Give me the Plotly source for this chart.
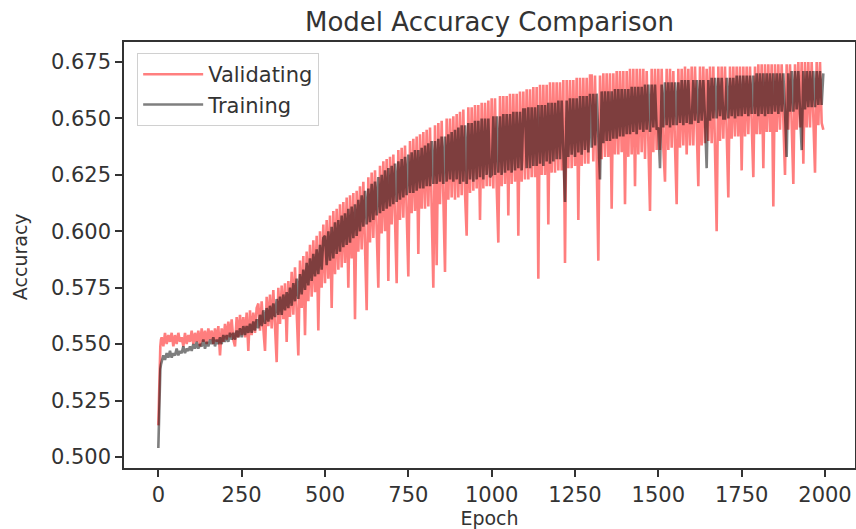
import plotly.graph_objects as go

# Epoch positions (x categories)
EPOCHS = [0, 2, 4, 6, 8] + list(range(10, 2000, 5))

# Validating accuracy
VAL = [
    0.514, 0.531, 0.543, 0.549, 0.552,
    0.553, 0.549, 0.555, 0.550, 0.554, 0.551, 0.555, 0.549, 0.554, 0.550, 0.555, 0.551, 0.553, 0.549, 0.555, 0.550, 0.554, 0.551,
    0.556, 0.550, 0.555, 0.551, 0.556, 0.549, 0.557, 0.551, 0.556, 0.550, 0.557, 0.552, 0.556, 0.550, 0.557, 0.551, 0.558, 0.545, 0.557, 0.551,
    0.559, 0.552, 0.560, 0.553, 0.561, 0.552, 0.549, 0.562, 0.553, 0.563, 0.554, 0.562, 0.553, 0.564, 0.547, 0.565, 0.554, 0.564, 0.555, 0.566,
    0.568, 0.556, 0.569, 0.557, 0.547, 0.571, 0.558, 0.572, 0.557, 0.574, 0.560, 0.542, 0.575, 0.559, 0.576, 0.561, 0.577, 0.551, 0.578, 0.562,
    0.582, 0.563, 0.584, 0.565, 0.545, 0.587, 0.566, 0.589, 0.554, 0.591, 0.569, 0.594, 0.571, 0.596, 0.573, 0.598, 0.556, 0.600, 0.575, 0.603,
    0.577, 0.605, 0.579, 0.607, 0.566, 0.609, 0.581, 0.610, 0.583, 0.612, 0.584, 0.613, 0.586, 0.615, 0.575, 0.616, 0.588, 0.617, 0.561, 0.618,
    0.591, 0.620, 0.592, 0.622, 0.594, 0.565, 0.624, 0.595, 0.626, 0.597, 0.627, 0.598, 0.575, 0.629, 0.599, 0.631, 0.600, 0.632, 0.578, 0.633,
    0.603, 0.634, 0.604, 0.577, 0.636, 0.605, 0.637, 0.606, 0.638, 0.607, 0.580, 0.640, 0.608, 0.641, 0.609, 0.642, 0.590, 0.643, 0.610, 0.644,
    0.610, 0.645, 0.611, 0.646, 0.612, 0.575, 0.647, 0.585, 0.648, 0.612, 0.649, 0.613, 0.582, 0.650, 0.614, 0.650, 0.615, 0.651, 0.614, 0.652,
    0.615, 0.653, 0.616, 0.654, 0.617, 0.598, 0.655, 0.617, 0.655, 0.618, 0.656, 0.619, 0.656, 0.605, 0.657, 0.619, 0.657, 0.620, 0.658, 0.620,
    0.659, 0.619, 0.659, 0.620, 0.595, 0.660, 0.620, 0.660, 0.621, 0.660, 0.607, 0.661, 0.621, 0.661, 0.622, 0.661, 0.598, 0.662, 0.622, 0.662,
    0.623, 0.663, 0.623, 0.663, 0.624, 0.664, 0.624, 0.664, 0.579, 0.665, 0.625, 0.665, 0.625, 0.665, 0.603, 0.666, 0.626, 0.666, 0.626, 0.666,
    0.627, 0.666, 0.627, 0.667, 0.586, 0.667, 0.628, 0.667, 0.628, 0.667, 0.629, 0.668, 0.605, 0.668, 0.629, 0.668, 0.630, 0.668, 0.630, 0.669,
    0.669, 0.631, 0.669, 0.632, 0.587, 0.669, 0.632, 0.670, 0.633, 0.670, 0.633, 0.670, 0.610, 0.670, 0.634, 0.671, 0.634, 0.671, 0.635, 0.671,
    0.612, 0.671, 0.633, 0.672, 0.634, 0.672, 0.620, 0.672, 0.634, 0.672, 0.635, 0.672, 0.632, 0.671, 0.636, 0.609, 0.672, 0.635, 0.672, 0.636,
    0.672, 0.636, 0.672, 0.637, 0.622, 0.672, 0.636, 0.672, 0.637, 0.671, 0.638, 0.612, 0.672, 0.637, 0.672, 0.638, 0.673, 0.634, 0.672, 0.638,
    0.673, 0.638, 0.673, 0.639, 0.620, 0.673, 0.638, 0.673, 0.639, 0.672, 0.640, 0.673, 0.639, 0.673, 0.640, 0.600, 0.673, 0.640, 0.673, 0.641,
    0.673, 0.641, 0.615, 0.673, 0.641, 0.673, 0.642, 0.673, 0.642, 0.673, 0.627, 0.673, 0.642, 0.673, 0.643, 0.673, 0.643, 0.624, 0.673, 0.643,
    0.674, 0.643, 0.674, 0.628, 0.674, 0.644, 0.674, 0.644, 0.674, 0.611, 0.674, 0.644, 0.674, 0.645, 0.674, 0.645, 0.625, 0.674, 0.645, 0.674,
    0.645, 0.621, 0.674, 0.645, 0.675, 0.646, 0.675, 0.630, 0.675, 0.646, 0.675, 0.646, 0.675, 0.647, 0.626, 0.675, 0.647, 0.675, 0.648, 0.645,
]

# Training accuracy
TRN = [
    0.504, 0.522, 0.534, 0.539, 0.541,
    0.542, 0.545, 0.543, 0.546, 0.544, 0.547, 0.544, 0.546, 0.545, 0.548, 0.545, 0.547, 0.546, 0.549, 0.546, 0.548, 0.547, 0.549,
    0.547, 0.550, 0.548, 0.551, 0.548, 0.550, 0.549, 0.552, 0.548, 0.551, 0.549, 0.552, 0.550, 0.553, 0.549, 0.552, 0.550, 0.553, 0.550, 0.554,
    0.551, 0.554, 0.551, 0.555, 0.552, 0.555, 0.552, 0.556, 0.553, 0.557, 0.553, 0.558, 0.554, 0.558, 0.555, 0.559, 0.555, 0.560, 0.556, 0.561,
    0.557, 0.563, 0.558, 0.565, 0.559, 0.566, 0.560, 0.567, 0.561, 0.568, 0.562, 0.570, 0.563, 0.571, 0.563, 0.572, 0.565, 0.573, 0.566, 0.575,
    0.567, 0.577, 0.569, 0.579, 0.570, 0.581, 0.572, 0.583, 0.574, 0.586, 0.576, 0.588, 0.578, 0.590, 0.580, 0.592, 0.581, 0.594, 0.583, 0.597,
    0.598, 0.585, 0.600, 0.587, 0.602, 0.588, 0.604, 0.590, 0.605, 0.591, 0.607, 0.593, 0.608, 0.594, 0.610, 0.595, 0.611, 0.597, 0.612, 0.598,
    0.614, 0.600, 0.616, 0.602, 0.618, 0.603, 0.619, 0.604, 0.621, 0.605, 0.622, 0.607, 0.624, 0.608, 0.625, 0.609, 0.627, 0.610, 0.628, 0.611,
    0.629, 0.612, 0.630, 0.613, 0.631, 0.614, 0.632, 0.615, 0.633, 0.616, 0.634, 0.617, 0.635, 0.617, 0.636, 0.618, 0.636, 0.619, 0.637, 0.619,
    0.638, 0.620, 0.639, 0.620, 0.640, 0.621, 0.640, 0.621, 0.641, 0.622, 0.642, 0.621, 0.642, 0.622, 0.643, 0.623, 0.644, 0.622, 0.645, 0.623,
    0.646, 0.621, 0.647, 0.622, 0.647, 0.621, 0.648, 0.623, 0.648, 0.622, 0.649, 0.623, 0.649, 0.624, 0.650, 0.623, 0.650, 0.625, 0.650, 0.624,
    0.625, 0.651, 0.625, 0.651, 0.626, 0.651, 0.625, 0.652, 0.626, 0.652, 0.627, 0.652, 0.626, 0.653, 0.627, 0.653, 0.628, 0.653, 0.627, 0.654,
    0.654, 0.628, 0.655, 0.628, 0.655, 0.629, 0.655, 0.629, 0.656, 0.630, 0.656, 0.629, 0.656, 0.631, 0.657, 0.630, 0.657, 0.631, 0.657, 0.632,
    0.658, 0.632, 0.658, 0.633, 0.613, 0.658, 0.633, 0.659, 0.634, 0.659, 0.633, 0.659, 0.635, 0.660, 0.634, 0.660, 0.636, 0.660, 0.635, 0.661,
    0.637, 0.661, 0.638, 0.661, 0.639, 0.623, 0.662, 0.639, 0.662, 0.640, 0.662, 0.640, 0.662, 0.641, 0.663, 0.641, 0.663, 0.642, 0.663, 0.642,
    0.663, 0.643, 0.663, 0.643, 0.664, 0.644, 0.664, 0.643, 0.664, 0.645, 0.664, 0.644, 0.665, 0.645, 0.665, 0.644, 0.665, 0.646, 0.665, 0.645,
    0.646, 0.628, 0.665, 0.646, 0.666, 0.647, 0.666, 0.646, 0.666, 0.647, 0.666, 0.647, 0.666, 0.648, 0.667, 0.647, 0.667, 0.648, 0.667, 0.648,
    0.648, 0.667, 0.649, 0.667, 0.648, 0.667, 0.649, 0.667, 0.650, 0.628, 0.667, 0.649, 0.668, 0.650, 0.668, 0.650, 0.668, 0.651, 0.668, 0.650,
    0.650, 0.668, 0.650, 0.668, 0.651, 0.668, 0.650, 0.669, 0.651, 0.669, 0.651, 0.669, 0.652, 0.669, 0.651, 0.669, 0.652, 0.669, 0.652, 0.670,
    0.651, 0.670, 0.652, 0.670, 0.651, 0.670, 0.652, 0.670, 0.652, 0.670, 0.653, 0.670, 0.652, 0.670, 0.653, 0.670, 0.653, 0.633, 0.670, 0.653,
    0.671, 0.653, 0.671, 0.654, 0.671, 0.654, 0.636, 0.671, 0.654, 0.671, 0.655, 0.671, 0.655, 0.671, 0.655, 0.671, 0.656, 0.671, 0.656, 0.670,
]

X_TICKS = [0, 250, 500, 750, 1000, 1250, 1500, 1750, 2000]
Y_TICKS = [0.500, 0.525, 0.550, 0.575, 0.600, 0.625, 0.650, 0.675]

FONT = "DejaVu Sans"
TXT = "#333333"

fig = go.Figure()
fig.add_trace(go.Scatter(
    x=EPOCHS, y=VAL, mode="lines", name="Validating",
    line=dict(color="red", width=2.6), opacity=0.5, legendgroup="v",
))
fig.add_trace(go.Scatter(
    x=EPOCHS, y=TRN, mode="lines", name="Training",
    line=dict(color="black", width=2.6), opacity=0.5, legendgroup="t",
))

axis_common = dict(
    showline=True, linecolor="#333333", linewidth=1.5, mirror=True,
    ticks="outside", ticklen=7, tickwidth=1.5, tickcolor="#333333",
    showgrid=False, zeroline=False, automargin=False,
    tickfont=dict(family=FONT, size=21, color=TXT),
)

fig.update_layout(
    width=856, height=529,
    margin=dict(l=124, r=1, t=42, b=61),
    paper_bgcolor="white", plot_bgcolor="white",
    title=dict(text="Model Accuracy Comparison", x=0.5, xref="paper",
               y=1 - 22 / 529, yanchor="middle",
               font=dict(family=FONT, size=26, color=TXT)),
    xaxis=dict(range=[-103, 2090], tickvals=X_TICKS,
               title=dict(text="Epoch", font=dict(family=FONT, size=19, color=TXT)),
               **axis_common),
    yaxis=dict(range=[0.4951, 0.6839], tickvals=Y_TICKS, tickformat=".3f",
               **axis_common),
    annotations=[dict(text="Accuracy", textangle=-90, xref="paper", yref="paper",
                      x=(20 - 124) / 731, y=0.495, xanchor="center", yanchor="middle",
                      showarrow=False, font=dict(family=FONT, size=19, color=TXT))],
    showlegend=True,
    legend=dict(x=0.018, y=0.974, xanchor="left", yanchor="top",
                bgcolor="white", bordercolor="#d0d0d0", borderwidth=1,
                font=dict(family=FONT, size=21, color=TXT),
                itemwidth=60, tracegroupgap=2, traceorder="normal"),
)

fig.write_html("out.html",
               config={"displayModeBar": False},
               post_script="document.body.style.margin='0';document.body.style.overflow='hidden';")
